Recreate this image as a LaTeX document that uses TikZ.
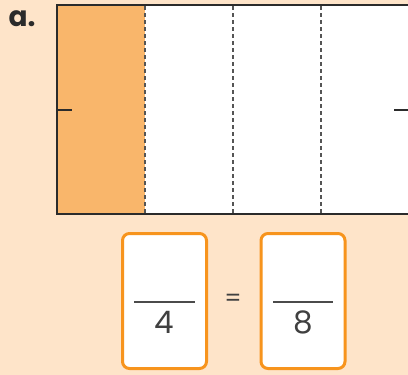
\documentclass[tikz,border=0pt]{standalone}
\usepackage{fontspec}
\setmainfont{Poppins}
\definecolor{bg}{HTML}{FEE4C9}
\definecolor{fillor}{HTML}{F9B66B}
\definecolor{boxor}{HTML}{F7941D}
\definecolor{dark}{HTML}{2B2B2B}
\begin{document}
\begin{tikzpicture}[x=1pt,y=-1pt,
  frame/.style={draw=dark,line width=2.6pt},
  divider/.style={draw=dark!80,line width=1.3pt,dash pattern=on 4pt off 3pt},
  tickm/.style={draw=dark,line width=2.4pt},
  fracbox/.style={draw=boxor,fill=white,line width=3pt,rounded corners=7pt,minimum width=84pt,minimum height=135pt,inner sep=0pt},
  fracline/.style={draw=dark!85,line width=1.1pt},
  num/.style={font=\fontsize{31}{31}\selectfont,text=dark!90,inner sep=0pt}]
\useasboundingbox (0,0) rectangle (408,375);
\fill[bg] (0,0) rectangle (408,375);
% strip
\fill[white] (57,5) rectangle (410,214);
\fill[fillor] (57,5) rectangle (145,214);
\draw[divider] (145,6) -- (145,214);
\draw[divider] (233,6) -- (233,214);
\draw[divider] (321,6) -- (321,214);
\draw[frame] (410,5) -- (57,5) -- (57,214) -- (410,214);
\coordinate (tl1) at (57,110);
\coordinate (tl2) at (72,110);
\coordinate (tr1) at (394,110);
\coordinate (tr2) at (410,110);
\draw[tickm] (tl1) -- (tl2);
\draw[tickm] (tr1) -- (tr2);
\node[font=\fontsize{28}{28}\selectfont\bfseries,text=dark,anchor=base] (lbl) at (22,26) {a.};
% fraction boxes
\node[fracbox] (b1) at (164.5,301) {};
\node[fracbox] (b2) at (303,301) {};
\coordinate (l1a) at (134,302);
\coordinate (l1b) at (195,302);
\coordinate (l2a) at (273,302);
\coordinate (l2b) at (333,302);
\draw[fracline] (l1a) -- (l1b);
\draw[fracline] (l2a) -- (l2b);
\node[num,anchor=base] (d1) at (164.5,333) {4};
\node[num,anchor=base] (d2) at (303,333) {8};
\node[num,font=\fontsize{24}{24}\selectfont] (eq) at (233,300) {=};
\end{tikzpicture}
\end{document}
